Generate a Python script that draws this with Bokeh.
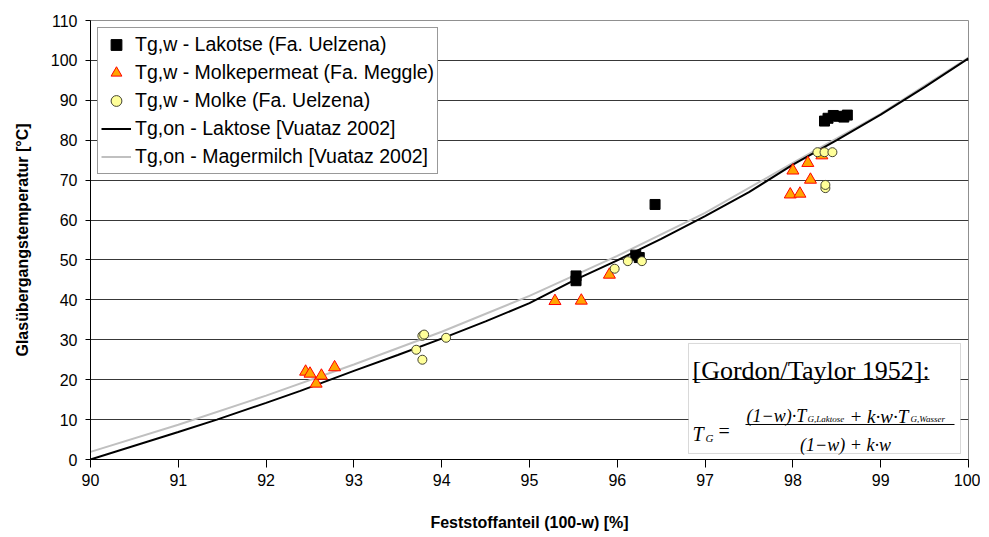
from bokeh.plotting import figure
from bokeh.models import Range1d, FixedTicker, Legend, LegendItem, Label, BoxAnnotation
from bokeh.embed import file_html
from bokeh.resources import INLINE

# ---- data ----
lak_x = [95.53, 95.53, 96.21, 96.25, 96.43, 98.36, 98.40, 98.46, 98.52, 98.58, 98.62]
lak_y = [46.0, 44.8, 51.2, 50.6, 63.9, 84.8, 85.5, 86.2, 86.0, 85.8, 86.3]

perm_x = [92.45, 92.50, 92.57, 92.63, 92.78, 95.29, 95.59, 95.91, 97.97, 98.00, 98.08, 98.17, 98.20, 98.33]
perm_y = [22.0, 21.5, 19.0, 21.0, 23.1, 39.7, 39.8, 46.3, 66.4, 72.4, 66.6, 74.3, 70.1, 76.2]

molke_x = [93.71, 93.78, 93.80, 93.78, 94.05, 95.97, 96.12, 96.28, 98.28, 98.36, 98.45, 98.37, 98.37]
molke_y = [27.5, 31.0, 31.3, 25.0, 30.5, 47.8, 49.7, 49.7, 77.0, 77.0, 77.0, 68.0, 68.8]

lakline_x = [90.0, 91.0, 91.44, 92.0, 92.39, 93.0, 93.5, 94.0, 94.5, 95.0, 95.5, 96.0, 96.5, 97.0, 97.5, 98.0, 98.5, 99.0, 99.5, 100.0]
lakline_y = [0.0, 6.9, 10.0, 14.2, 17.2, 22.2, 26.2, 30.3, 34.6, 39.2, 44.8, 49.9, 55.3, 61.0, 67.0, 73.9, 80.0, 86.4, 93.3, 100.5]

mmline_x = [90.0, 91.0, 92.0, 93.0, 94.0, 95.0, 96.0, 97.0, 98.0, 99.0, 100.0]
mmline_y = [1.9, 8.7, 16.0, 23.8, 32.0, 41.0, 51.0, 61.8, 74.3, 86.6, 100.7]

x_ticks = [90, 91, 92, 93, 94, 95, 96, 97, 98, 99, 100]
y_ticks = [0, 10, 20, 30, 40, 50, 60, 70, 80, 90, 100, 110]

labels = ["Tg,w - Lakotse (Fa. Uelzena)",
          "Tg,w - Molkepermeat (Fa. Meggle)",
          "Tg,w - Molke (Fa. Uelzena)",
          "Tg,on - Laktose [Vuataz 2002]",
          "Tg,on - Magermilch [Vuataz 2002]"]

FONT = "Liberation Sans"
SERIF = "Liberation Serif"

W, H = 980, 537
p = figure(width=W, height=H, x_range=Range1d(90, 100), y_range=Range1d(0, 110),
           output_backend="svg", toolbar_location=None,
           min_border_left=90, min_border_right=W - 968, min_border_top=20, min_border_bottom=H - 459)

p.background_fill_color = "white"
p.border_fill_color = "white"
p.outline_line_color = "#909090"
p.xgrid.grid_line_color = None
p.ygrid.grid_line_color = "#383838"
p.ygrid.grid_line_width = 1

for ax in (p.xaxis, p.yaxis):
    ax.axis_line_color = "black"
    ax.major_tick_line_color = "black"
    ax.minor_tick_line_color = None
    ax.major_label_text_font = FONT
    ax.major_label_text_font_size = "16px"
    ax.major_label_text_color = "black"
    ax.axis_label_text_font = FONT
    ax.axis_label_text_font_size = "16px"
    ax.axis_label_text_font_style = "bold"
    ax.axis_label_text_color = "black"
    ax.major_tick_in = 0

p.xaxis.ticker = FixedTicker(ticks=x_ticks)
p.yaxis.ticker = FixedTicker(ticks=y_ticks)
p.xaxis.major_tick_out = 8
p.yaxis.major_tick_out = 5
p.xaxis.major_label_standoff = 6
p.yaxis.major_label_standoff = 8
p.xaxis.axis_label = "Feststoffanteil (100-w) [%]"
p.yaxis.axis_label = "Glasübergangstemperatur [°C]"
p.xaxis.axis_label_standoff = 25
p.yaxis.axis_label_standoff = 17

# curves
r_mm = p.line(mmline_x, mmline_y, line_color="#c0c0c0", line_width=2)
r_lak = p.line(lakline_x, lakline_y, line_color="black", line_width=2)

# points
r_sq = p.scatter(lak_x, lak_y, marker="square", size=10, fill_color="black", line_color="black")
r_tri = p.scatter(perm_x, perm_y, marker="triangle", size=12, fill_color="#ffa500",
                  line_color="#ff0000", line_width=1)
r_cir = p.scatter(molke_x, molke_y, marker="circle", size=9, fill_color="#ffff99",
                  line_color="#444433", line_width=1)

legend = Legend(items=[LegendItem(label=labels[0], renderers=[r_sq]),
                       LegendItem(label=labels[1], renderers=[r_tri]),
                       LegendItem(label=labels[2], renderers=[r_cir]),
                       LegendItem(label=labels[3], renderers=[r_lak]),
                       LegendItem(label=labels[4], renderers=[r_mm])],
                location="top_left")
legend.margin = 7
legend.padding = 3
legend.spacing = 1
legend.glyph_height = 27
legend.glyph_width = 30
legend.label_standoff = 4
legend.label_height = 27
legend.label_text_font = FONT
legend.label_text_font_size = "19.5px"
legend.label_text_color = "black"
legend.border_line_color = "#333333"
legend.border_line_width = 1
legend.background_fill_color = "white"
legend.background_fill_alpha = 1.0
p.add_layout(legend)

# ---- formula box (annotation, placed via page pixels) ----
def dx(px):
    return 90 + (px - 90) / 87.8

def dy(py):
    return (459.0 - py) / 3.99

box = BoxAnnotation(left=dx(688), right=dx(960), top=dy(343), bottom=dy(453),
                    fill_color="white", fill_alpha=1.0, line_color="#808080", line_width=1,
                    level="annotation")
p.add_layout(box)

def lab(txt, px, py, size, style="normal", align="left", font=SERIF):
    p.add_layout(Label(x=dx(px), y=dy(py), text=txt, text_font=font,
                       text_font_size=f"{size}px", text_font_style=style,
                       text_align=align, text_baseline="alphabetic", text_color="black",
                       level="overlay"))

lab("[Gordon/Taylor 1952]:", 692, 370, 26)
p.segment(x0=[dx(692)], y0=[dy(379)], x1=[dx(929)], y1=[dy(379)], line_color="black",
          line_width=1, level="overlay")

lab("T", 692, 434, 20, "italic")
lab("G", 705, 438, 11, "italic")
lab("=", 718, 431, 20)
lab("(1\u2212w)\u00b7T", 746, 416, 18, "italic")
lab("G,Laktose", 807, 419, 9, "italic")
lab("+ k\u00b7w\u00b7T", 849, 416, 19, "italic")
lab("G,Wasser", 910, 419, 9, "italic")
p.segment(x0=[dx(745)], y0=[dy(424)], x1=[dx(954)], y1=[dy(424)], line_color="black",
          line_width=1, level="overlay")
lab("(1\u2212w) + k\u00b7w", 845, 445, 18, "italic", align="center")

open("out.html", "w").write(file_html(p, INLINE))
